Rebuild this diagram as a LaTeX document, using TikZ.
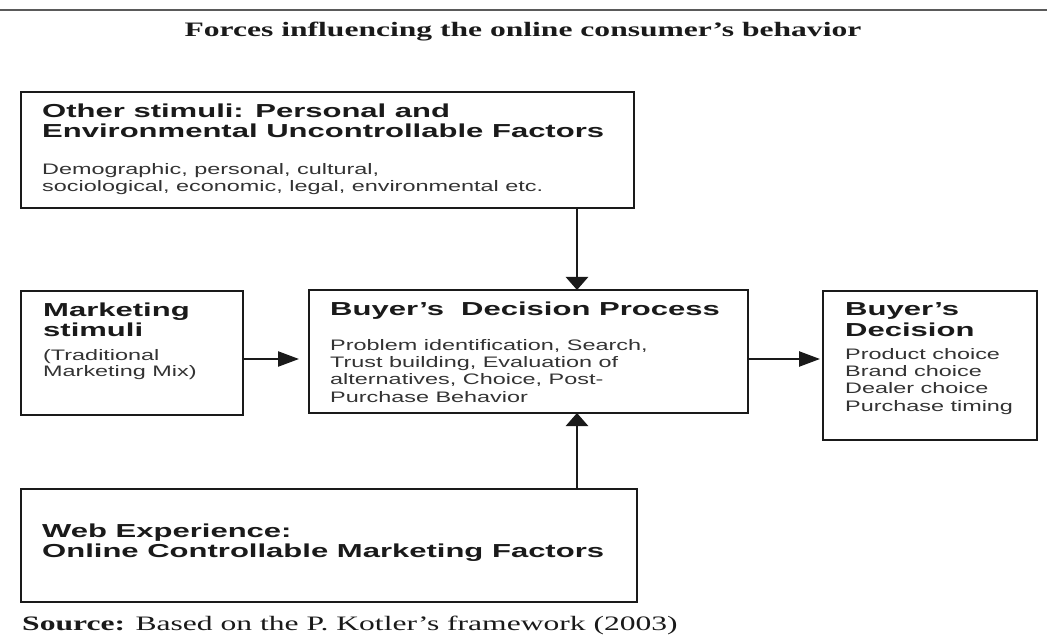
\documentclass[tikz,border=0pt]{standalone}
\usepackage{fontspec}
\usetikzlibrary{arrows.meta}
\newfontfamily\headfont[FakeStretch=1.65]{Liberation Sans}
\newfontfamily\bodyfont[FakeStretch=1.54]{Liberation Sans}
\newfontfamily\serfont[FakeStretch=1.54]{Liberation Serif}
\definecolor{ink}{HTML}{1A1A1A}
\definecolor{bodyink}{HTML}{333333}
\definecolor{rule}{HTML}{5A5A5A}
\tikzset{
  box/.style={draw=ink, line width=2.4pt, rectangle, inner sep=0pt, outer sep=0pt, anchor=north west},
  headtxt/.style={inner sep=0pt, anchor=base west, text=ink, font=\headfont\bfseries\fontsize{18.8pt}{20pt}\selectfont},
  bodytxt/.style={inner sep=0pt, anchor=base west, text=bodyink, font=\bodyfont\fontsize{15.2pt}{17pt}\selectfont},
  sertxt/.style={inner sep=0pt, text=ink, font=\serfont\fontsize{20.5pt}{22pt}\selectfont},
  varrow/.style={draw=ink, line width=2.6pt, -{Triangle[length=13pt,width=22pt]}},
  harrow/.style={draw=ink, line width=2.4pt, -{Triangle[length=21pt,width=15pt]}}
}
\begin{document}
\begin{tikzpicture}[x=1pt,y=-1pt]
\useasboundingbox (0,0) rectangle (1047,636);
\fill[white] (0,0) rectangle (1047,636);
% top rule
\coordinate (rl) at (0,10);
\coordinate (rr) at (1047,10);
\draw[rule, line width=1.6pt] (rl) -- (rr);
% title
\node[sertxt, anchor=base] (title) at (523,37) {\bfseries Forces influencing the online consumer’s behavior};
% boxes
\node[box, minimum width=613pt, minimum height=116pt] (other) at (21,92) {};
\node[box, minimum width=222pt, minimum height=124pt] (mkt) at (21,291) {};
\node[box, minimum width=439pt, minimum height=123pt] (proc) at (309,290) {};
\node[box, minimum width=214pt, minimum height=149pt] (dec) at (823,291) {};
\node[box, minimum width=616pt, minimum height=113pt] (web) at (21,489) {};
% texts: other stimuli
\node[headtxt] (o1) at (42,118) {Other stimuli: Personal and};
\node[headtxt] (o2) at (42,138) {Environmental Uncontrollable Factors};
\node[bodytxt] (o3) at (42,175) {Demographic, personal, cultural,};
\node[bodytxt] (o4) at (42,192) {sociological, economic, legal, environmental etc.};
% marketing stimuli
\node[headtxt] (m1) at (43,317) {Marketing};
\node[headtxt] (m2) at (43,337) {stimuli};
\node[bodytxt] (m3) at (43,360) {(Traditional};
\node[bodytxt] (m4) at (43,377) {Marketing Mix)};
% process
\node[headtxt] (p1) at (330,316) {Buyer’s\ \ Decision Process};
\node[bodytxt] (p2) at (330,350) {Problem identification, Search,};
\node[bodytxt] (p3) at (330,367.3) {Trust building, Evaluation of};
\node[bodytxt] (p4) at (330,384.6) {alternatives, Choice, Post-};
\node[bodytxt] (p5) at (330,402) {Purchase Behavior};
% decision
\node[headtxt] (d1) at (845,316) {Buyer’s};
\node[headtxt] (d2) at (845,337) {Decision};
\node[bodytxt] (d3) at (845,359.3) {Product choice};
\node[bodytxt] (d4) at (845,376.6) {Brand choice};
\node[bodytxt] (d5) at (845,393.9) {Dealer choice};
\node[bodytxt] (d6) at (845,411.2) {Purchase timing};
% web
\node[headtxt] (w1) at (42,537) {Web Experience:};
\node[headtxt] (w2) at (42,557) {Online Controllable Marketing Factors};
% source
\node[sertxt, anchor=base west] (src) at (22,630) {\bfseries Source:\mdseries{} Based on the P. Kotler’s framework (2003)};
% connectors
\coordinate (ax) at (577,0);
\coordinate (hy) at (0,359);
\draw[varrow] (other.south -| ax) -- (proc.north -| ax);
\draw[varrow] (web.north -| ax) -- (proc.south -| ax);
\draw[harrow, shorten >=10pt] (mkt.east |- hy) -- (proc.west |- hy);
\draw[harrow, shorten >=3pt] (proc.east |- hy) -- (dec.west |- hy);
\end{tikzpicture}
\end{document}
